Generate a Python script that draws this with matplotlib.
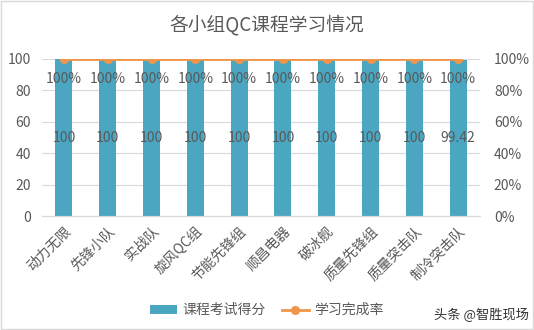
import numpy as np
import matplotlib.pyplot as plt
from matplotlib.ticker import PercentFormatter

plt.rcParams['font.family'] = ['Noto Sans CJK SC', 'DejaVu Sans']

groups = ['动力无限', '先锋小队', '实战队', '旋风QC组', '节能先锋组',
          '顺昌电器', '破冰舰', '质量先锋组', '质量突击队', '制冷突击队']
scores = [100, 100, 100, 100, 100, 100, 100, 100, 100, 99.42]
rates = [1.0, 1.0, 1.0, 1.0, 1.0, 1.0, 1.0, 1.0, 1.0, 1.0]

bar_color = '#4BA6C2'
line_color = '#F0954A'
text_color = '#595959'

fig = plt.figure(figsize=(5.34, 3.3), dpi=100)
ax = fig.add_axes([42 / 534, 1 - 216 / 330, 438 / 534, 157 / 330])
ax2 = ax.twinx()

x = np.arange(len(groups))
bars = ax.bar(x, scores, width=0.39, color=bar_color, zorder=2, label='课程考试得分')
ax.set_ylim(0, 100)
ax.set_xlim(-0.5, len(groups) - 0.5)
ax.set_yticks(np.arange(0, 101, 20))
ax.grid(axis='y', color='#D9D9D9', linewidth=0.8, zorder=0)

line, = ax2.plot(x, rates, color=line_color, linewidth=2, marker='o',
                 markersize=5.5, zorder=3, label='学习完成率')
ax2.set_ylim(0, 1)
ax2.set_yticks(np.arange(0, 1.01, 0.2))
ax2.yaxis.set_major_formatter(PercentFormatter(1.0, decimals=0))

# value labels: scores in the middle of each bar, rates just under the line
for xi, s in zip(x, scores):
    ax.text(xi, 50, f'{s:g}', ha='center', va='center', fontsize=10,
            color=text_color, zorder=4)
for xi, r in zip(x, rates):
    ax2.text(xi, 0.87, f'{r:.0%}', ha='center', va='center', fontsize=10,
             color=text_color, zorder=4)

ax.set_xticks(x)
ax.set_xticklabels(groups, rotation=45, ha='right', rotation_mode='anchor',
                   fontsize=10, color=text_color)
for a in (ax, ax2):
    for side in ('top', 'left', 'right'):
        a.spines[side].set_visible(False)
    a.spines['bottom'].set_color('#D9D9D9')
    a.tick_params(length=0, labelsize=10, labelcolor=text_color, pad=8)
ax.tick_params(axis='x', pad=6)
ax2.tick_params(axis='y', pad=10)

fig.suptitle('各小组QC课程学习情况', y=0.955, fontsize=13.5, color=text_color)

fig.legend([bars, line], ['课程考试得分', '学习完成率'], loc='center',
           bbox_to_anchor=(0.5, 0.06), ncol=2, frameon=False,
           prop={'size': 10}, labelcolor=text_color,
           handlelength=1.9, handleheight=0.6, handletextpad=0.4, columnspacing=1.2)

fig.text(0.99, 0.045, '头条 @智胜现场', ha='right', va='center', fontsize=9.5, color='#333333')

fig.patches.append(plt.Rectangle((0.002, 0.003), 0.996, 0.994, transform=fig.transFigure,
                                 fill=False, edgecolor='#D9D9D9', linewidth=1))

fig.savefig('out.png', dpi=100)
